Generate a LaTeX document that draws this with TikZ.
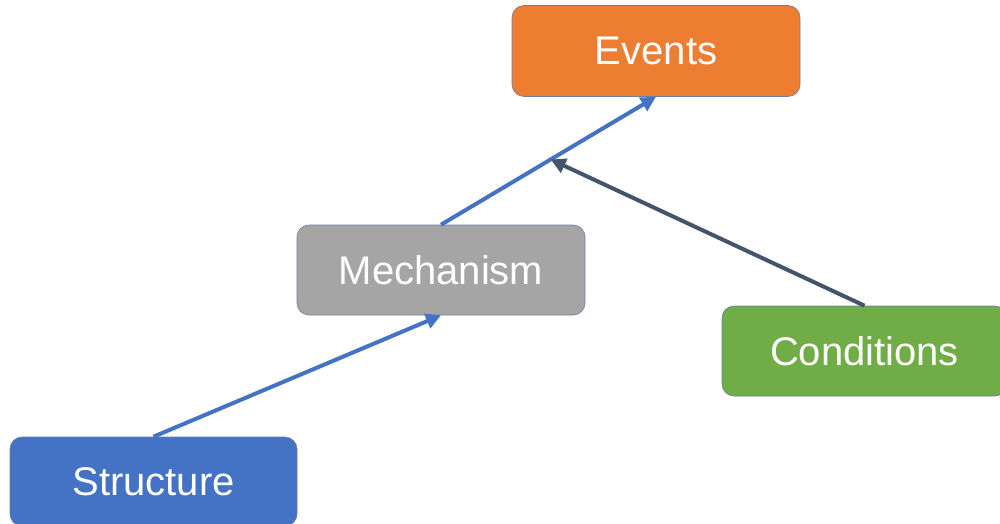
\documentclass[tikz,border=0pt]{standalone}
\usepackage{fontspec}
\setmainfont{Liberation Sans}
\usetikzlibrary{arrows.meta,calc}
\definecolor{evorange}{HTML}{ED7D31}
\definecolor{mechgray}{HTML}{A5A5A5}
\definecolor{condgreen}{HTML}{70AD47}
\definecolor{structblue}{HTML}{4472C4}
\definecolor{edgeblue}{HTML}{4472C4}
\definecolor{edgeslate}{HTML}{44546A}
\definecolor{boxline}{HTML}{6A7FA6}
\tikzset{
  box/.style={draw=boxline, line width=0.6pt, rounded corners=12pt,
    inner sep=0pt, text=white, font=\fontsize{40}{46}\selectfont},
  flow/.style={line width=4pt, -{Triangle[length=15pt,width=15pt]}},
}
\begin{document}
\begin{tikzpicture}[x=1pt,y=-1pt]
\useasboundingbox (0,0) rectangle (1000,524);
% boxes
\node[box, fill=evorange, minimum width=288pt, minimum height=91pt] (ev) at (656,51) {Events};
\node[box, fill=mechgray, minimum width=288pt, minimum height=90pt] (mech) at (441,270) {Mechanism};
\node[box, fill=condgreen, minimum width=285pt, minimum height=90pt] (cond) at (864.5,351) {Conditions};
\node[box, fill=structblue, minimum width=287pt, minimum height=89pt] (st) at (153.5,481.5) {Structure};
% connectors
\coordinate (join) at ($(mech.north)!0.51!(ev.south)$);
\draw[flow, draw=edgeblue, fill=edgeblue] (st.north) -- (mech.south);
\draw[flow, draw=edgeblue, fill=edgeblue] (mech.north) -- (ev.south);
\draw[flow, draw=edgeslate, fill=edgeslate] (cond.north) -- (join);
\end{tikzpicture}
\end{document}
